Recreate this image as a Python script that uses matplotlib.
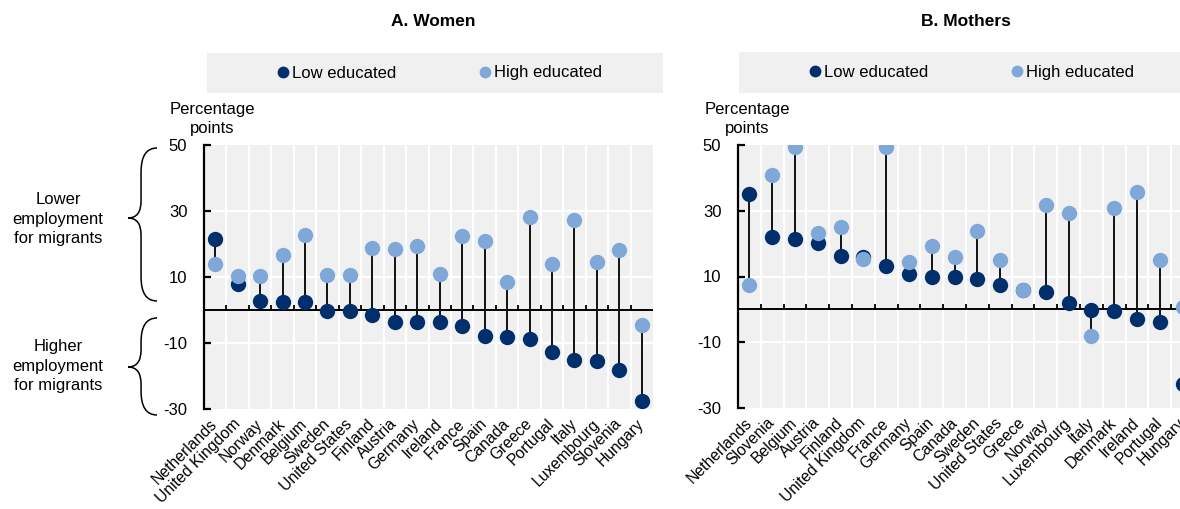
import matplotlib
matplotlib.use('Agg')
import matplotlib.pyplot as plt
import numpy as np
from matplotlib.path import Path
from matplotlib.patches import PathPatch, Rectangle
from matplotlib.lines import Line2D

plt.rcParams['font.family'] = ['Liberation Sans', 'DejaVu Sans']
plt.rcParams['axes.unicode_minus'] = False

W, H = 1180, 509

# gap in employment rates, native-born minus foreign-born women (percentage points)
women_countries = ['Netherlands', 'United Kingdom', 'Norway', 'Denmark', 'Belgium',
                   'Sweden', 'United States', 'Finland', 'Austria', 'Germany',
                   'Ireland', 'France', 'Spain', 'Canada', 'Greece', 'Portugal',
                   'Italy', 'Luxembourg', 'Slovenia', 'Hungary']
women_low = [21.6, 8.0, 2.8, 2.3, 2.3, -0.2, -0.2, -1.5, -3.6, -3.7,
             -3.7, -4.9, -7.9, -8.3, -8.7, -12.7, -15.1, -15.6, -18.2, -27.7]
women_high = [13.8, 10.4, 10.4, 16.8, 22.8, 10.5, 10.5, 18.8, 18.6, 19.3,
              10.8, 22.3, 20.8, 8.4, 28.2, 13.9, 27.4, 14.5, 18.2, -4.5]

mothers_countries = ['Netherlands', 'Slovenia', 'Belgium', 'Austria', 'Finland',
                     'United Kingdom', 'France', 'Germany', 'Spain', 'Canada',
                     'Sweden', 'United States', 'Greece', 'Norway', 'Luxembourg',
                     'Italy', 'Denmark', 'Ireland', 'Portugal', 'Hungary']
mothers_low = [35.0, 22.1, 21.3, 20.3, 16.3, 15.8, 13.3, 10.7, 9.8, 9.8,
               9.3, 7.3, 6.0, 5.3, 1.8, -0.3, -0.6, -3.0, -3.9, -22.6]
mothers_high = [7.3, 40.8, 49.5, 23.2, 25.0, 15.2, 49.5, 14.3, 19.4, 15.8,
                23.7, 15.1, 6.0, 31.6, 29.2, -8.1, 30.8, 35.6, 14.9, 0.8]

y_ticks = [-30, -10, 10, 30, 50]

DARK = '#002F6C'
LIGHT = '#7FA8D9'
BG = '#F0F0F0'
FS = 11.8


def frac_rect(x0, y0, x1, y1):
    # pixel box (origin top-left) -> [left, bottom, width, height] in figure fraction
    return [x0 / W, 1 - y1 / H, (x1 - x0) / W, (y1 - y0) / H]


def fx(x):
    return x / W


def fy(y):
    return 1 - y / H


def draw_panel(ax, countries, low, high):
    n = len(countries)
    x = np.arange(n)
    bounds = np.arange(0.5, n - 0.5)
    ax.set_facecolor(BG)
    ax.set_xlim(-0.5, n - 0.5)
    ax.set_ylim(-30, 50)
    for b in bounds:
        ax.axvline(b, color='white', lw=1.6, zorder=0)
    for v in (-10, 10, 30):
        ax.axhline(v, color='white', lw=1.6, zorder=0)
    ax.axhline(0, color='black', lw=1.4, zorder=1)
    ax.vlines(bounds, 0, 1.6, color='black', lw=1.3, zorder=1)
    ax.vlines(x, low, high, color='#111111', lw=1.4, zorder=2)
    ax.scatter(x, low, s=122, color=DARK, zorder=3, linewidths=0)
    ax.scatter(x, high, s=122, color=LIGHT, zorder=4, linewidths=0)

    for side in ('top', 'right', 'bottom'):
        ax.spines[side].set_visible(False)
    ax.spines['left'].set_linewidth(1.6)
    ax.set_yticks(y_ticks)
    ax.tick_params(axis='y', direction='in', length=5, width=1.6, pad=12, labelsize=12)
    ax.set_xticks(x)
    ax.set_xticklabels(countries, rotation=45, ha='right', va='center',
                       rotation_mode='anchor', fontsize=11.3)
    ax.tick_params(axis='x', length=0, pad=9)


def brace(fig, x_tip, x_end, y_top, y_bot, y_tip, r_end=24, r_tip=17):
    xm = x_tip + 0.45 * (x_end - x_tip)
    pts = [(x_end, y_top), (xm, y_top), (xm, y_top + r_end),
           (xm, y_tip - r_tip), (xm, y_tip), (x_tip, y_tip),
           (xm, y_tip), (xm, y_tip + r_tip),
           (xm, y_bot - r_end), (xm, y_bot), (x_end, y_bot)]
    codes = [Path.MOVETO, Path.CURVE3, Path.CURVE3,
             Path.LINETO, Path.CURVE3, Path.CURVE3,
             Path.CURVE3, Path.CURVE3,
             Path.LINETO, Path.CURVE3, Path.CURVE3]
    verts = [(fx(a), fy(b)) for a, b in pts]
    fig.patches.append(PathPatch(Path(verts, codes), transform=fig.transFigure,
                                 facecolor='none', edgecolor='black', lw=1.1))


def legend_box(fig, ax, x0, x1, y0, y1, cx):
    fig.patches.append(Rectangle((fx(x0), fy(y1)), (x1 - x0) / W, (y1 - y0) / H,
                                 transform=fig.transFigure, facecolor=BG,
                                 edgecolor='none', zorder=-1))
    handles = [Line2D([], [], marker='o', ls='none', color=DARK, markersize=8.5,
                      markeredgewidth=0, label='Low educated'),
               Line2D([], [], marker='o', ls='none', color=LIGHT, markersize=8.5,
                      markeredgewidth=0, label='High educated')]
    ax.legend(handles=handles, loc='center', bbox_to_anchor=(fx(cx), fy((y0 + y1) / 2)),
              bbox_transform=fig.transFigure, ncol=2, frameon=False, fontsize=12,
              handlelength=0.6, handletextpad=0.25, columnspacing=5.0,
              borderaxespad=0)


fig = plt.figure(figsize=(W / 100, H / 100), dpi=100)

ax1 = fig.add_axes(frac_rect(204, 145, 653, 409))
ax2 = fig.add_axes(frac_rect(738, 145, 1194, 408))

draw_panel(ax1, women_countries, women_low, women_high)
draw_panel(ax2, mothers_countries, mothers_low, mothers_high)

fig.text(fx(433), fy(22), 'A. Women', ha='center', va='center',
         fontsize=12.5, fontweight='bold')
fig.text(fx(966), fy(22), 'B. Mothers', ha='center', va='center',
         fontsize=12.5, fontweight='bold')

legend_box(fig, ax1, 207, 663, 53, 93, 440)
legend_box(fig, ax2, 739, 1195, 52, 93, 972)

fig.text(fx(212), fy(119), 'Percentage\npoints', ha='center', va='center',
         fontsize=12, linespacing=1.3)
fig.text(fx(747), fy(119), 'Percentage\npoints', ha='center', va='center',
         fontsize=12, linespacing=1.3)

fig.text(fx(58), fy(219), 'Lower\nemployment\nfor migrants', ha='center', va='center',
         fontsize=12, linespacing=1.35)
fig.text(fx(58), fy(366), 'Higher\nemployment\nfor migrants', ha='center', va='center',
         fontsize=12, linespacing=1.35)

brace(fig, 128, 157, 148, 301, 218)
brace(fig, 128, 157, 318, 415, 367)

fig.savefig('out.png', dpi=100)
